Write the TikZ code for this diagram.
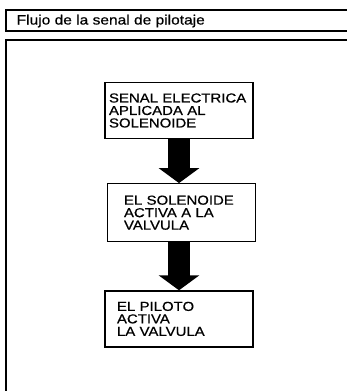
\documentclass[tikz,border=0pt]{standalone}
\usepackage{fontspec}
\usepackage{tikz}
\usetikzlibrary{arrows.meta, positioning}
\newfontfamily\diagfont[FakeStretch=1.15, FakeBold=0.6]{Liberation Sans}

\begin{document}
\begin{tikzpicture}[x=1pt, y=-1pt,
        node distance=44pt,
        caja/.style={draw, line width=1.2pt, align=left, minimum width=148pt, minimum height=56pt,
            font=\diagfont\fontsize{13}{12.5}\selectfont},
        marco/.style={line width=1.5pt},
        flecha/.style={line width=22pt, -{Triangle[length=15pt, width=40pt]}}
    ]
        \useasboundingbox (0,0) rectangle (347,391);
        % encabezado y marco
        \draw[marco] (347,10) -| (6,31) -- (347,31);
        \node[anchor=base west, inner sep=0pt, font=\diagfont\fontsize{13.5}{13.5}\selectfont]
            (titulo) at (16.5,24.5) {Flujo de la senal de pilotaje};
        \draw[marco] (347,40) -| (6,391);
        % pasos
        \node[caja, inner xsep=4pt, text width=140pt] (senal) at (179,110.5)
            {SENAL ELECTRICA\\APLICADA AL\\SOLENOIDE};
        \node[caja, below=of senal, xshift=2.5pt, inner xsep=16pt, text width=115pt, minimum height=58pt] (solenoide)
            {EL SOLENOIDE\\ACTIVA A LA\\VALVULA};
        \node[caja, below=48pt of solenoide, xshift=-2.5pt, inner xsep=12pt, text width=124pt] (piloto)
            {EL PILOTO\\ACTIVA\\LA VALVULA};
        \draw[flecha] (senal.south) -- (senal.south |- solenoide.north);
        \draw[flecha] (solenoide.south -| senal.south) -- (piloto.north);
    \end{tikzpicture}
\end{document}
